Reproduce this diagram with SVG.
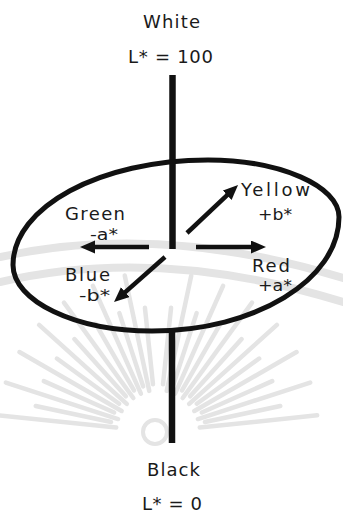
<svg xmlns="http://www.w3.org/2000/svg" width="343" height="513" viewBox="0 0 343 513">
<style>
.t{font-family:"DejaVu Sans","Verdana",sans-serif;font-size:18px;fill:#1a1a1a;text-anchor:middle}
.s{font-size:16px}
.axis{stroke:#111;stroke-width:6.5;fill:none}
.arr{stroke:#111;stroke-width:4.5;fill:none}
.wm{stroke:#e4e4e4;fill:none;stroke-linecap:round}
</style>
<defs>
<marker id="ah" markerUnits="userSpaceOnUse" markerWidth="16" markerHeight="14" refX="3" refY="6.5" orient="auto">
<path d="M0,0 L15,6.5 L0,13 z" fill="#111"/>
</marker>
<line id="ray" x1="42" y1="0" x2="160" y2="0"/>
<line id="rayS" x1="48" y1="0" x2="125" y2="0"/>
</defs>
<rect width="343" height="513" fill="#fff"/>
<g id="watermark" class="wm">
<path d="M0,257 Q160,222 343,278" stroke-width="8"/>
<path d="M0,282 Q160,245 343,302" stroke-width="8"/>
<g transform="translate(158,432)" stroke-width="4.5">
<use href="#ray" transform="rotate(-6)"/><use href="#rayS" transform="rotate(-12)"/>
<use href="#ray" transform="rotate(-18)"/><use href="#rayS" transform="rotate(-24)"/>
<use href="#ray" transform="rotate(-30)"/><use href="#rayS" transform="rotate(-36)"/>
<use href="#ray" transform="rotate(-42)"/><use href="#rayS" transform="rotate(-48)"/>
<use href="#ray" transform="rotate(-54)"/><use href="#rayS" transform="rotate(-60)"/>
<use href="#ray" transform="rotate(-66)"/><use href="#rayS" transform="rotate(-72)"/>
<use href="#ray" transform="rotate(-78)"/><use href="#rayS" transform="rotate(-84)"/>
<use href="#rayS" transform="rotate(-96)"/><use href="#ray" transform="rotate(-102)"/>
<use href="#rayS" transform="rotate(-108)"/><use href="#ray" transform="rotate(-114)"/>
<use href="#rayS" transform="rotate(-120)"/><use href="#ray" transform="rotate(-126)"/>
<use href="#rayS" transform="rotate(-132)"/><use href="#ray" transform="rotate(-138)"/>
<use href="#rayS" transform="rotate(-144)"/><use href="#ray" transform="rotate(-150)"/>
<use href="#rayS" transform="rotate(-156)"/><use href="#ray" transform="rotate(-162)"/>
<use href="#rayS" transform="rotate(-168)"/><use href="#ray" transform="rotate(-174)"/>
<circle cx="-3" cy="0" r="12" stroke-width="4"/>
</g>
</g>
<g id="ellipse">
<path d="M13,265 C13,207 100,160 208,160 C280,160 339,186 339,217 C339,280 255,331 152,331 C75,331 13,301 13,265 Z" fill="none" stroke="#111" stroke-width="5"/>
</g>
<g id="connectors">
<line class="axis" x1="172.5" y1="75" x2="172.5" y2="249"/>
<line class="axis" x1="172" y1="331" x2="172" y2="443"/>
<line class="arr" x1="149" y1="247" x2="92" y2="247" marker-end="url(#ah)"/>
<line class="arr" x1="196" y1="247" x2="254" y2="247" marker-end="url(#ah)"/>
<line class="arr" x1="187" y1="233" x2="229.3" y2="193.2" marker-end="url(#ah)"/>
<line class="arr" x1="165" y1="257" x2="123" y2="294.1" marker-end="url(#ah)"/>
</g>
<g id="white"><text class="t" x="171.5" y="28" textLength="57">White</text><text class="t" x="170.5" y="63" textLength="85">L* = 100</text></g>
<g id="green"><text class="t" x="95" y="220" textLength="60">Green</text><text class="t s" x="104" y="240" textLength="28" lengthAdjust="spacingAndGlyphs">-a*</text></g>
<g id="blue"><text class="t" x="87.5" y="281" textLength="45">Blue</text><text class="t s" x="94.5" y="301" textLength="31" lengthAdjust="spacingAndGlyphs">-b*</text></g>
<g id="yellow"><text class="t" x="275.5" y="196" textLength="69">Yellow</text><text class="t s" x="275" y="220" textLength="34" lengthAdjust="spacingAndGlyphs">+b*</text></g>
<g id="red"><text class="t" x="271" y="272" textLength="38">Red</text><text class="t s" x="275" y="291" textLength="34" lengthAdjust="spacingAndGlyphs">+a*</text></g>
<g id="black"><text class="t" x="173.5" y="476" textLength="53">Black</text><text class="t" x="172" y="510" textLength="60">L* = 0</text></g>
</svg>
